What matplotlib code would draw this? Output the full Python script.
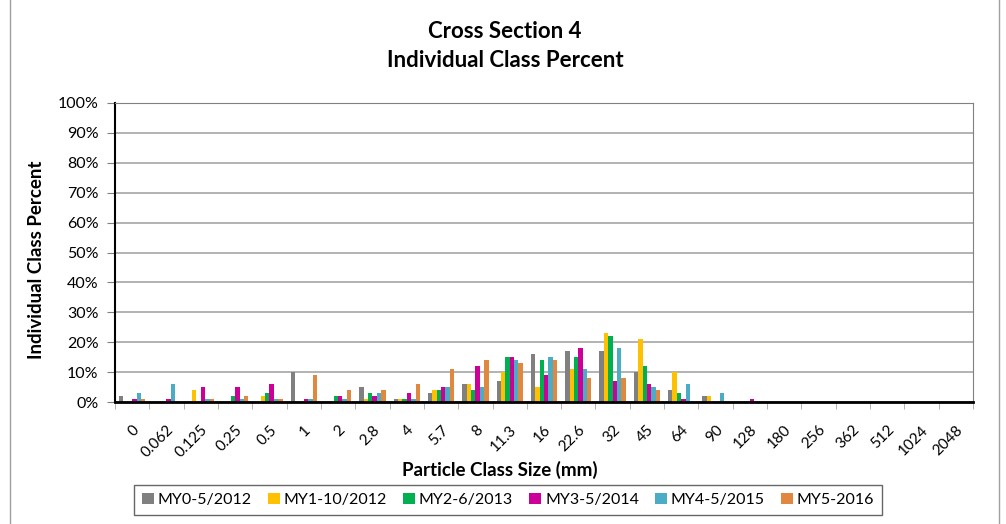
import matplotlib.pyplot as plt
import numpy as np

plt.rcParams['font.family'] = ['Lato', 'DejaVu Sans']

sizes = ["0", "0.062", "0.125", "0.25", "0.5", "1", "2", "2.8", "4", "5.7", "8",
         "11.3", "16", "22.6", "32", "45", "64", "90", "128", "180", "256", "362",
         "512", "1024", "2048"]

series_names = ["MY0-5/2012", "MY1-10/2012", "MY2-6/2013", "MY3-5/2014",
                "MY4-5/2015", "MY5-2016"]

my0 = [2, 0, 0, 0, 0, 10, 0, 5, 1, 3, 6, 7, 16, 17, 17, 10, 4, 2, 0, 0, 0, 0, 0, 0, 0]
my1 = [0, 0, 4, 0, 2, 0, 0, 1, 1, 4, 6, 10, 5, 11, 23, 21, 10, 2, 0, 0, 0, 0, 0, 0, 0]
my2 = [0, 0, 0, 2, 3, 0, 2, 3, 1, 4, 4, 15, 14, 15, 22, 12, 3, 0, 0, 0, 0, 0, 0, 0, 0]
my3 = [1, 1, 5, 5, 6, 1, 2, 2, 3, 5, 12, 15, 9, 18, 7, 6, 1, 0, 1, 0, 0, 0, 0, 0, 0]
my4 = [3, 6, 1, 1, 1, 1, 1, 3, 1, 5, 5, 14, 15, 11, 18, 5, 6, 3, 0, 0, 0, 0, 0, 0, 0]
my5 = [1, 0, 1, 2, 1, 9, 4, 4, 6, 11, 14, 13, 14, 8, 8, 4, 0, 0, 0, 0, 0, 0, 0, 0, 0]

colors = ["#808080", "#FFC000", "#00B050", "#CC0099", "#4BACC6", "#E0883F"]

fig = plt.figure(figsize=(10.06, 5.24), dpi=100)
ax = fig.add_axes([115 / 1006, 1 - 402 / 524, 858 / 1006, 299 / 524])

x = np.arange(len(sizes))
w = 0.128
all_series = [my0, my1, my2, my3, my4, my5]
for k, (vals, name, c) in enumerate(zip(all_series, series_names, colors)):
    ax.bar(x + (k - 2.5) * w, np.array(vals) / 100, width=w, color=c,
           label=name, zorder=3)

ax.set_xlim(-0.5, len(sizes) - 0.5)
ax.set_ylim(0, 1)
ax.set_yticks(np.arange(0, 1.01, 0.1))
ax.set_yticklabels([f"{int(round(v * 100))}%" for v in np.arange(0, 1.01, 0.1)],
                   fontsize=11.5)
ax.yaxis.grid(True, color="#a6a6a6", linewidth=1.2, zorder=0)

ax.set_xticks(x)
ax.set_xticklabels(sizes, rotation=45, ha="right", rotation_mode="anchor",
                   fontsize=11)
ax.set_xticks(np.arange(-0.5, len(sizes)), minor=True)
ax.tick_params(axis="x", which="major", length=0, pad=15)
ax.tick_params(axis="x", which="minor", length=5, color="#a6a6a6")
ax.tick_params(axis="y", length=6, color="#808080", pad=6)

ax.spines["left"].set_color("black")
ax.spines["left"].set_linewidth(1.5)
ax.spines["bottom"].set_color("black")
ax.spines["bottom"].set_linewidth(2)
ax.spines["bottom"].set_zorder(4)
ax.spines["top"].set_color("#808080")
ax.spines["right"].set_color("#808080")

fig.text(500 / 1006, 1 - 470 / 524, "Particle Class Size (mm)", ha="center",
         va="center", fontsize=13.5, fontweight="bold")
fig.text(37 / 1006, 1 - 260 / 524, "Individual Class Percent", ha="center",
         va="center", rotation=90, fontsize=13.5, fontweight="bold")

fig.text(505 / 1006, 1 - 32 / 524, "Cross Section 4", ha="center", va="center",
         fontsize=16, fontweight="bold")
fig.text(505 / 1006, 1 - 61 / 524, "Individual Class Percent", ha="center",
         va="center", fontsize=16, fontweight="bold")

leg = fig.legend(loc="center", bbox_to_anchor=(508 / 1006, 1 - 500 / 524),
                 ncol=6, fontsize=11.5, frameon=True, fancybox=False,
                 handlelength=0.75, handleheight=0.75, handletextpad=0.25,
                 columnspacing=1.0, borderpad=0.5, borderaxespad=0)
leg.get_frame().set_edgecolor("#404040")
leg.get_frame().set_linewidth(1)

fig.patches.append(plt.Rectangle((10 / 1006, -0.01), 989 / 1006, 1.1,
                                 transform=fig.transFigure, fill=False,
                                 edgecolor="#a0a0a0", linewidth=1))

fig.savefig("out.png", dpi=100)
